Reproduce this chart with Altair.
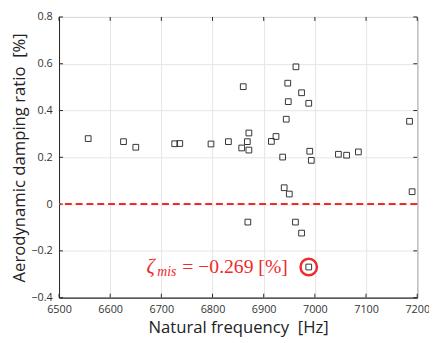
import altair as alt
import pandas as pd

# Measured points: natural frequency [Hz] and aerodynamic damping ratio [%]
freq = [6557, 6626, 6650, 6726, 6736, 6797, 6831, 6857, 6860, 6868, 6871, 6871,
        6915, 6924, 6937, 6944, 6948, 6947, 6963, 6974, 6988, 6990, 6993,
        7046, 7062, 7085, 7185,
        6940, 6950, 7190, 6869, 6962, 6974, 6988]
damp = [0.280, 0.267, 0.243, 0.258, 0.259, 0.257, 0.267, 0.240, 0.502, 0.267, 0.304, 0.231,
        0.268, 0.289, 0.201, 0.363, 0.438, 0.517, 0.587, 0.476, 0.431, 0.226, 0.187,
        0.213, 0.209, 0.223, 0.354,
        0.070, 0.043, 0.053, -0.077, -0.077, -0.124, -0.269]

mis_freq = [6988]
mis_value = [-0.269]
ann_text = ["= \u22120.269 [%]"]
x_ticks = [6500, 6600, 6700, 6800, 6900, 7000, 7100, 7200]
y_ticks = [-0.4, -0.2, 0.0, 0.2, 0.4, 0.6, 0.8]

RED = "#ee2a2a"
FONT = "Open Sans"
W, H = 365, 286

df = pd.DataFrame({"f": freq, "d": damp})
mis_df = pd.DataFrame({"f": mis_freq, "d": mis_value, "t": ann_text})
ann_df = pd.DataFrame({"f": [6947], "d": mis_value, "t": ann_text})
xt_df = pd.DataFrame({"v": x_ticks})
yt_df = pd.DataFrame({"v": y_ticks})

xs = alt.Scale(domain=[6500, 7200], nice=False, zero=False)
ys = alt.Scale(domain=[-0.4, 0.8], nice=False, zero=False)

x_axis = alt.Axis(values=x_ticks, format="d", title="Natural frequency\u00a0\u00a0[Hz]",
                  labelFont=FONT, labelFontSize=11, labelColor="#333333",
                  titleFont=FONT, titleFontSize=17, titleFontWeight="normal",
                  titleColor="#222222", titlePadding=6, labelPadding=6,
                  ticks=False, domainColor="#262626", gridColor="#e4e4e4",
                  labelFlush=False)
y_axis = alt.Axis(values=y_ticks, title="Aerodynamic damping ratio\u00a0\u00a0[%]",
                  labelExpr="datum.value == 0 ? '0' : format(datum.value, '.1f')",
                  labelFont=FONT, labelFontSize=11, labelColor="#333333",
                  titleFont=FONT, titleFontSize=17, titleFontWeight="normal",
                  titleColor="#222222", titlePadding=2, labelPadding=7,
                  ticks=False, domainColor="#262626", gridColor="#e4e4e4",
                  labelFlush=False)

points = alt.Chart(df).mark_point(shape="square", filled=False, size=34,
                                  color="#333333", strokeWidth=1, opacity=1).encode(
    x=alt.X("f:Q", scale=xs, axis=x_axis),
    y=alt.Y("d:Q", scale=ys, axis=y_axis),
)

# inward tick marks on all four sides
tick_style = dict(color="#262626", strokeWidth=1)
xt_bottom = alt.Chart(xt_df).mark_rule(**tick_style).encode(
    x=alt.X("v:Q", scale=xs), y=alt.value(H), y2=alt.value(H - 4))
xt_top = alt.Chart(xt_df).mark_rule(**tick_style).encode(
    x=alt.X("v:Q", scale=xs), y=alt.value(0), y2=alt.value(4))
yt_left = alt.Chart(yt_df).mark_rule(**tick_style).encode(
    y=alt.Y("v:Q", scale=ys), x=alt.value(0), x2=alt.value(4))
yt_right = alt.Chart(yt_df).mark_rule(**tick_style).encode(
    y=alt.Y("v:Q", scale=ys), x=alt.value(W), x2=alt.value(W - 4))

zero = alt.Chart(pd.DataFrame({"z": [0]})).mark_rule(
    color=RED, strokeWidth=2, strokeDash=[7, 4]).encode(y=alt.Y("z:Q", scale=ys))

circle = alt.Chart(mis_df).mark_point(shape="circle", filled=False, size=280,
                                      color=RED, strokeWidth=2.5, opacity=1).encode(
    x=alt.X("f:Q", scale=xs), y=alt.Y("d:Q", scale=ys))

txt_main = alt.Chart(ann_df).mark_text(align="right", baseline="middle",
                                        font="Liberation Serif", fontSize=20,
                                        color=RED).encode(
    x=alt.X("f:Q", scale=xs), y=alt.Y("d:Q", scale=ys), text="t:N")
txt_zeta = alt.Chart(ann_df).mark_text(align="left", baseline="middle",
                                        font="Liberation Serif", fontSize=21,
                                        fontStyle="italic", color=RED, dx=-144).encode(
    x=alt.X("f:Q", scale=xs), y=alt.Y("d:Q", scale=ys), text=alt.value("\u03b6"))
txt_sub = alt.Chart(ann_df).mark_text(align="left", baseline="middle",
                                       font="Liberation Serif", fontSize=14,
                                       fontStyle="italic", color=RED, dx=-133, dy=5).encode(
    x=alt.X("f:Q", scale=xs), y=alt.Y("d:Q", scale=ys), text=alt.value("mis"))

chart = alt.layer(points, xt_bottom, xt_top, yt_left, yt_right, zero, circle,
                  txt_main, txt_zeta, txt_sub).properties(
    width=W, height=H,
    autosize=alt.AutoSizeParams(type="none"),
    padding={"left": 52, "top": 6, "right": 12, "bottom": 40},
).configure_view(stroke="#262626", strokeWidth=1)

chart.save("out.html", embed_options={"renderer": "svg", "actions": False})
